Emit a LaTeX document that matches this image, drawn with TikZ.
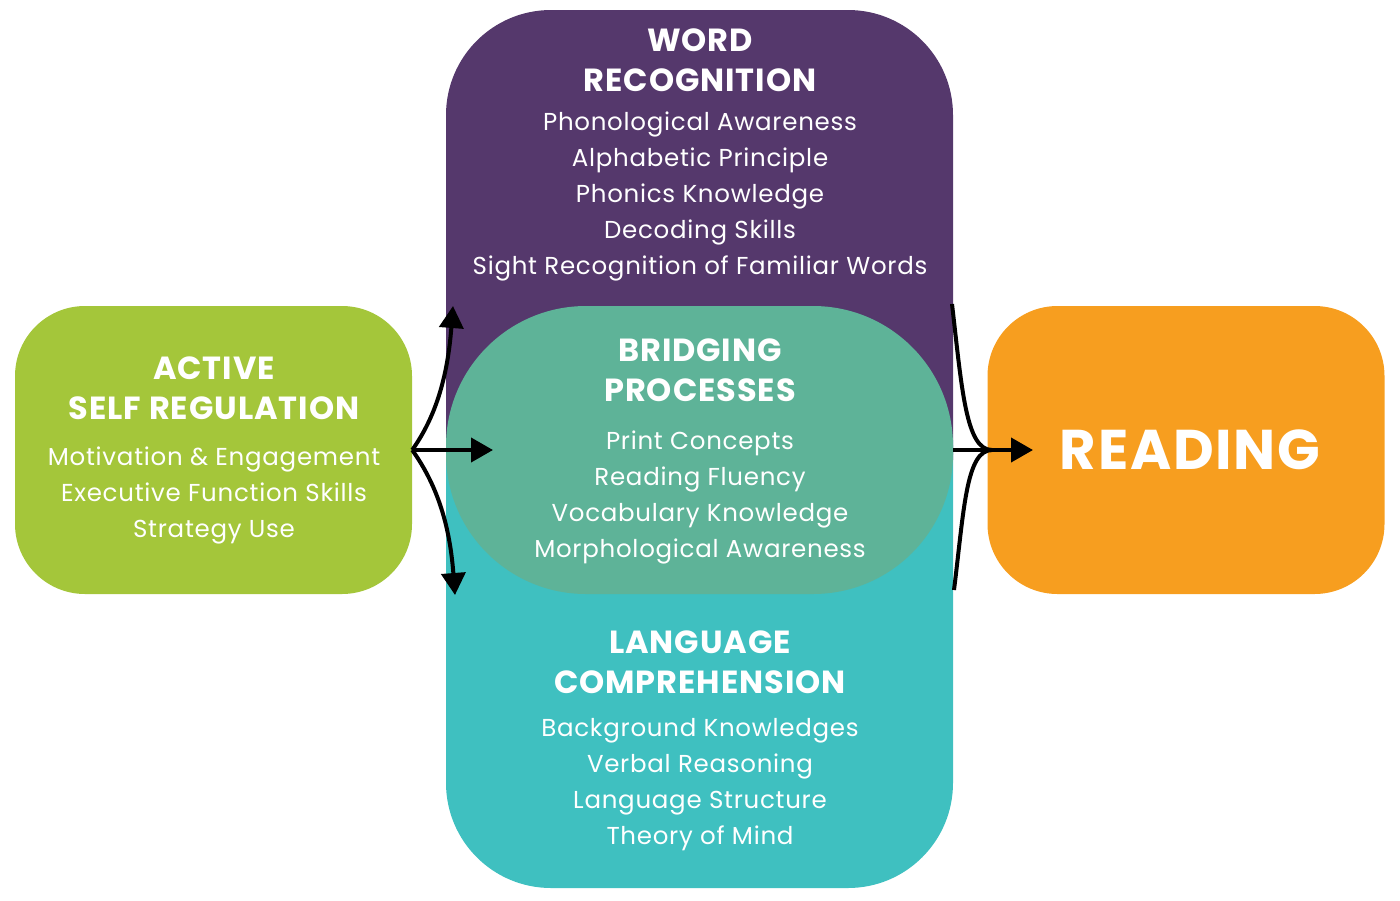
\documentclass[tikz,border=0pt]{standalone}
\usepackage{fontspec}
\setmainfont[LetterSpace=3]{Poppins}
\usetikzlibrary{arrows.meta}
\definecolor{wrcol}{HTML}{55386C}
\definecolor{lccol}{HTML}{3FC0C0}
\definecolor{bpcol}{HTML}{5EB398}
\definecolor{srcol}{HTML}{A4C63A}
\definecolor{rdcol}{HTML}{F79E1F}
\tikzset{
  hdr/.style={text=white, align=center, inner sep=0pt, font=\fontsize{32}{40}\bfseries\selectfont},
  itm/.style={text=white, align=center, inner sep=0pt, font=\fontsize{24.5}{36}\selectfont},
  box/.style={rounded corners=70pt, inner sep=0pt, minimum width=397pt, minimum height=288pt},
  conn/.style={line width=4pt, black},
  arr/.style={conn, -{Triangle[length=22pt,width=24pt]}}
}
\begin{document}
\begin{tikzpicture}[x=1pt,y=-1pt]
\useasboundingbox (0,0) rectangle (1400,900);
% purple (word recognition) and teal (language comprehension)
\fill[wrcol] (446,460) [rounded corners=105pt] -- (446,10) -- (953,10) [sharp corners] -- (953,460) -- cycle;
\fill[lccol] (446,440) [sharp corners] -- (953,440) [rounded corners=105pt] -- (953,888) -- (446,888) [sharp corners] -- cycle;
% bridging
\node[box, fill=bpcol, minimum width=507pt, rounded corners=140pt] (bp) at (699.5,450) {};
% self regulation
\node[box, fill=srcol] (sr) at (213.5,450) {};
% reading
\node[box, fill=rdcol] (rd) at (1186,450) {};
% texts
\node[hdr] (wrh) at (700,60) {WORD\\RECOGNITION};
\node[itm] (wri) at (700,196) {Phonological Awareness\\Alphabetic Principle\\Phonics Knowledge\\Decoding Skills\\Sight Recognition of Familiar Words};
\node[hdr] (bph) at (700,370) {BRIDGING\\PROCESSES};
\node[itm] (bpi) at (700,497) {Print Concepts\\Reading Fluency\\Vocabulary Knowledge\\Morphological Awareness};
\node[hdr] (lch) at (700,662) {LANGUAGE\\COMPREHENSION};
\node[itm] (lci) at (700,785) {Background Knowledges\\Verbal Reasoning\\Language Structure\\Theory of Mind};
\node[hdr] (srh) at (214,388) {ACTIVE\\SELF REGULATION};
\node[itm] (sri) at (214,495) {Motivation \& Engagement\\Executive Function Skills\\Strategy Use};
\node[text=white, inner sep=0pt, font=\fontsize{56}{60}\bfseries\selectfont] (rdt) at (1190,450) {READING};
% connector points
\coordinate (wrIn) at (453,306);
\coordinate (lcIn) at (455,595);
\coordinate (bpIn) at (493,450);
\coordinate (wrOut) at (952,304);
\coordinate (lcOut) at (954,590);
\coordinate (bpOut) at (953,450);
\coordinate (join) at (992,450);
\coordinate (rdIn) at (1033,450);
% arrows from self regulation
\draw[arr] (sr.east) .. controls (432,422) and (447,385) .. (wrIn);
\draw[arr] (sr.east) .. controls (432,478) and (449,515) .. (lcIn);
\draw[arr] (sr.east) -- (bpIn);
% arrows into reading
\draw[conn] (wrOut) .. controls (962,390) and (966,450) .. (join);
\draw[conn] (lcOut) .. controls (964,510) and (966,450) .. (join);
\draw[arr] (bpOut) -- (rdIn);
\end{tikzpicture}
\end{document}
